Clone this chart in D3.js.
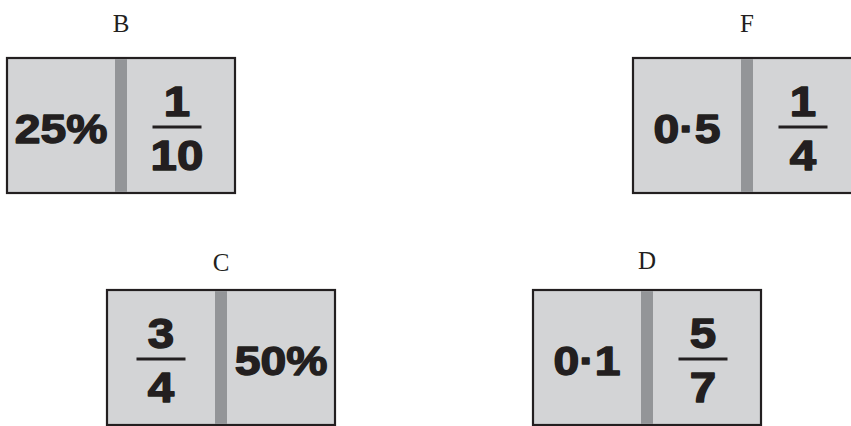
<!DOCTYPE html>
<html>
<head>
<meta charset="utf-8">
<script src="https://cdn.jsdelivr.net/npm/d3@7"></script>
<style>
  body { margin: 0; background: #fff; }
</style>
</head>
<body>
<svg width="851" height="426"></svg>
<script>
// dane kart
const cardLabels = ['B', 'F', 'C', 'D'];
const leftValues = ['25%', '0·5', '3/4', '0·1'];
const rightValues = ['1/10', '1/4', '50%', '5/7'];

// pozycje kart (układ)
const cardX = [7, 633, 107, 533];
const cardY = [58, 58, 290, 290];
const labelY = [32, 32, 271, 269];

const svg = d3.select('svg');
const cardW = 228, cardH = 135, divW = 12;

const cards = cardLabels.map((label, i) => ({
    label, left: leftValues[i], right: rightValues[i],
    x: cardX[i], y: cardY[i], ly: labelY[i]
}));

// skala połówek karty - przerwa między pasmami = szerokość paska
const half = d3.scaleBand()
    .domain(['left', 'right'])
    .range([0, cardW])
    .paddingInner(2 * divW / (cardW + divW));

const g = svg.selectAll('.card')
    .data(cards)
    .enter().append('g')
    .attr('class', 'card')
    .attr('transform', d => `translate(${d.x},${d.y})`);

g.append('rect')
    .attr('width', cardW)
    .attr('height', cardH)
    .attr('fill', '#d3d4d6')
    .attr('stroke', '#231f20')
    .attr('stroke-width', 2.2);

g.append('rect')
    .attr('x', half('left') + half.bandwidth())
    .attr('y', 1.1)
    .attr('width', half('right') - half('left') - half.bandwidth())
    .attr('height', cardH - 2.2)
    .attr('fill', '#939598');

// etykieta nad kartą
g.append('text')
    .attr('x', cardW / 2)
    .attr('y', d => d.ly - d.y)
    .attr('text-anchor', 'middle')
    .attr('font-family', '"Liberation Serif", "Times New Roman", serif')
    .attr('font-size', 25)
    .attr('fill', '#231f20')
    .text(d => d.label);

function boldText(el, x, y, size, txt) {
    el.append('text')
        .attr('transform', `translate(${x},${y}) scale(1.13,1)`)
        .attr('text-anchor', 'middle')
        .attr('font-family', '"Liberation Sans", Arial, sans-serif')
        .attr('font-weight', 'bold')
        .attr('font-size', size)
        .attr('fill', '#231f20')
        .attr('stroke', '#231f20')
        .attr('stroke-width', 1.4)
        .attr('stroke-linejoin', 'round')
        .text(txt);
}

function drawValue(sel, side) {
    sel.each(function(d) {
        const v = d[side];
        const frac = v.includes('/');
        const cx = half(side) + half.bandwidth() / 2 + (side === 'right' && frac ? -4 : 0);
        const el = d3.select(this);
        if (frac) {
            const [num, den] = v.split('/');
            const lw = 49;
            boldText(el, cx, 58, 42, num);
            el.append('rect')
                .attr('x', cx - lw / 2).attr('y', 67.5)
                .attr('width', lw).attr('height', 3)
                .attr('fill', '#231f20');
            boldText(el, cx, 112, 42, den);
        } else {
            boldText(el, cx, 85, 41, v);
        }
    });
}

g.call(drawValue, 'left');
g.call(drawValue, 'right');
</script>
</body>
</html>
